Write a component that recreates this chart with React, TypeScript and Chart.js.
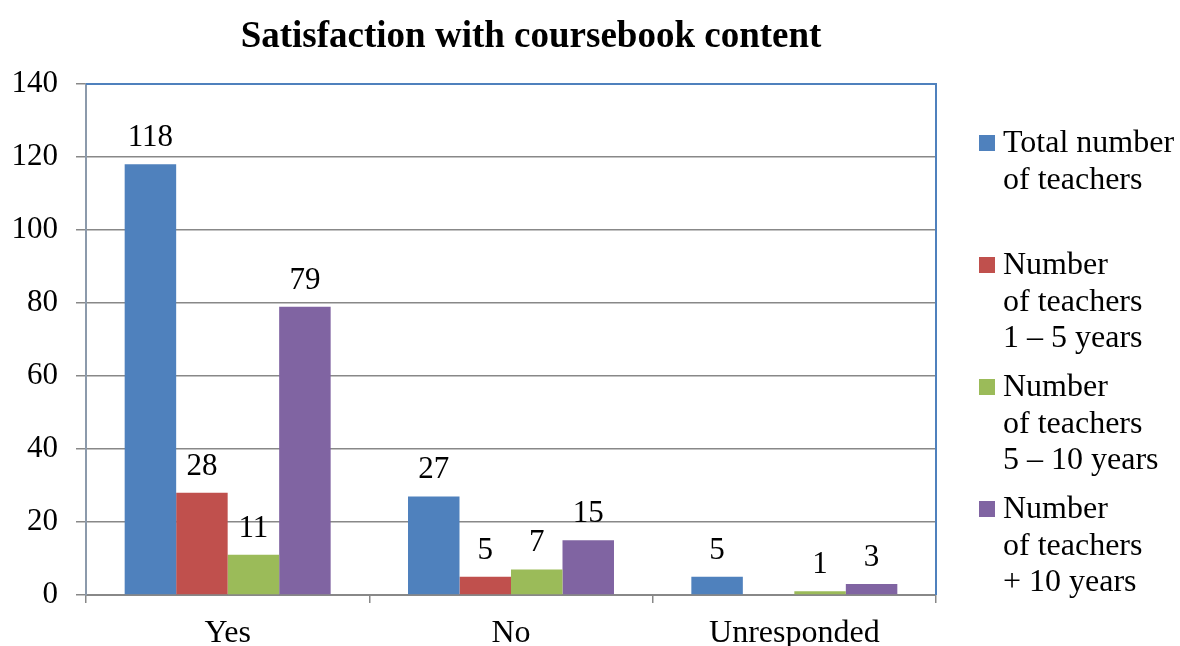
import React, { useEffect, useRef } from "react";
import { Chart, registerables } from "chart.js";

Chart.register(...registerables);

const TITLE = "Satisfaction with coursebook content";
const categories = ["Yes", "No", "Unresponded"];
const totalTeachers = [118, 27, 5];
const teachers1to5 = [28, 5, 0];
const teachers5to10 = [11, 7, 1];
const teachersPlus10 = [79, 15, 3];
const seriesLabels = [
  ["Total number", "of teachers"],
  ["Number", "of teachers", "1 – 5 years"],
  ["Number", "of teachers", "5 – 10 years"],
  ["Number", "of teachers", "+ 10 years"],
];
const seriesColors = ["#4F81BD", "#C0504D", "#9BBB59", "#8064A2"];
const yTicks = [0, 20, 40, 60, 80, 100, 120, 140];

const FONT = "'Liberation Serif', 'Times New Roman', serif";

const decorPlugin = {
  id: "decor",
  afterDatasetsDraw(chart: any) {
    const ctx = chart.ctx;
    const { left, right, top, bottom } = chart.chartArea;
    ctx.save();
    // top and right frame
    ctx.strokeStyle = "#4F81BD";
    ctx.lineWidth = 2;
    ctx.beginPath();
    ctx.moveTo(left, top);
    ctx.lineTo(right, top);
    ctx.lineTo(right, bottom);
    ctx.stroke();

    // data labels
    ctx.fillStyle = "#000";
    ctx.font = `31px ${FONT}`;
    ctx.textAlign = "center";
    ctx.textBaseline = "alphabetic";
    chart.data.datasets.forEach((ds: any, i: number) => {
      const meta = chart.getDatasetMeta(i);
      meta.data.forEach((bar: any, j: number) => {
        const v = ds.data[j];
        if (!v) return;
        ctx.fillText(String(v), bar.x, bar.y - 18);
      });
    });

    // title
    ctx.font = `bold 37px ${FONT}`;
    ctx.textAlign = "center";
    ctx.fillText(TITLE, 531, 47);

    // legend
    ctx.font = `32px ${FONT}`;
    ctx.textAlign = "left";
    chart.data.datasets.forEach((ds: any, i: number) => {
      const base = 152 + i * 122;
      ctx.fillStyle = ds.backgroundColor;
      ctx.fillRect(979, base - 17, 16, 16);
      ctx.fillStyle = "#000";
      const lines: string[] = seriesLabels[i];
      lines.forEach((ln, k) => {
        ctx.fillText(ln, 1003, base + k * 36.5);
      });
    });
    ctx.restore();
  },
};

export default function App() {
  const ref = useRef<HTMLCanvasElement>(null);
  useEffect(() => {
    if (!ref.current) return;
    const seriesData = [totalTeachers, teachers1to5, teachers5to10, teachersPlus10];
    const chart = new Chart(ref.current, {
      type: "bar",
      data: {
        labels: categories,
        datasets: seriesData.map((d, i) => ({
          label: seriesLabels[i].join(" "),
          data: d,
          backgroundColor: seriesColors[i],
          borderWidth: 0,
          categoryPercentage: 0.727,
          barPercentage: 1,
        })),
      },
      options: {
        animation: false,
        responsive: true,
        maintainAspectRatio: false,
        layout: { padding: { left: 0, top: 84, right: 244, bottom: 0 } },
        plugins: {
          legend: { display: false },
          title: { display: false },
          tooltip: { enabled: false },
        },
        scales: {
          x: {
            afterFit: (s: any) => {
              s.height = 51;
            },
            grid: {
              display: true,
              offset: true,
              drawOnChartArea: false,
              drawTicks: true,
              tickLength: 8,
              color: "#888888",
              lineWidth: 1.5,
            },
            border: { display: true, color: "#888888", width: 2 },
            ticks: {
              color: "#000",
              font: { family: FONT, size: 32 },
              padding: 11,
            },
          },
          y: {
            min: 0,
            max: 140,
            afterFit: (s: any) => {
              s.width = 86;
            },
            afterBuildTicks: (s: any) => {
              s.ticks = yTicks.map((v) => ({ value: v }));
            },
            grid: {
              color: "#888888",
              lineWidth: 1.5,
              drawTicks: true,
              tickLength: 10,
            },
            border: { display: true, color: "#8C9AAB", width: 2 },
            ticks: {
              color: "#000",
              font: { family: FONT, size: 31 },
              padding: 18,
            },
          },
        },
      },
      plugins: [decorPlugin],
    });
    return () => chart.destroy();
  }, []);
  return (
    <div style={{ position: "absolute", left: 0, top: 0, width: 1180, height: 646, background: "#fff" }}>
      <canvas ref={ref} />
    </div>
  );
}
